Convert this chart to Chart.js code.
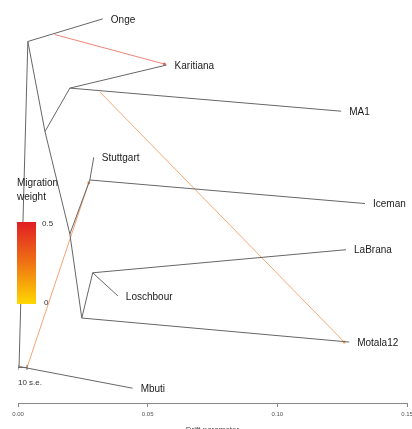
<!DOCTYPE html>
<html>
<head>
<meta charset="utf-8">
<script src="https://cdn.jsdelivr.net/npm/chart.js@4.4.1/dist/chart.umd.min.js"></script>
<style>
  html, body { margin: 0; padding: 0; background: #fff; overflow: hidden; }
  canvas { display: block; }
</style>
</head>
<body>
<canvas id="treeChart" width="412" height="436"></canvas>
<script>
// TreeMix-style tree with migration edges

// Leaves
const tipNames = ['Onge', 'Karitiana', 'MA1', 'Stuttgart', 'Iceman', 'LaBrana', 'Loschbour', 'Motala12', 'Mbuti'];
const tipX = [0.0327, 0.0573, 0.1246, 0.0292, 0.1338, 0.1265, 0.0385, 0.1277, 0.0442];
const tipY = [9, 8, 7, 6, 5, 4, 3, 2, 1];

// Internal nodes
const innerNames = ['R', 'A', 'G', 'B', 'F', 'E', 'C', 'D'];
const innerX = [0.0004, 0.0038, 0.0104, 0.0200, 0.0200, 0.0277, 0.0246, 0.0288];
const innerY = [1.47, 8.51, 6.56, 7.50, 4.34, 5.51, 2.52, 3.50];

// Tree edges (parent -> child)
const edgeFrom = ['R', 'R', 'A', 'A', 'G', 'B', 'B', 'G', 'F', 'E', 'E', 'F', 'C', 'D', 'D', 'C'];
const edgeTo = ['Mbuti', 'A', 'Onge', 'G', 'B', 'Karitiana', 'MA1', 'F', 'E', 'Stuttgart', 'Iceman', 'C', 'D', 'LaBrana', 'Loschbour', 'Motala12'];

// Migration edges
const migFromX = [0.0142, 0.0315, 0.0035];
const migFromY = [8.66, 7.42, 1.45];
const migToX = [0.0565, 0.1258, 0.0273];
const migToY = [8.02, 2.00, 5.45];
const migWeight = [0.45, 0.28, 0.30];

// Scale bar (10 s.e.)
const seBarX = [0, 0.0035];
const seBarY = 1.45;

// X axis
const xTicks = [0, 0.05, 0.10, 0.15];
const xTickLabels = ['0.00', '0.05', '0.10', '0.15'];

const FONT = '"Liberation Sans", Arial, Helvetica, sans-serif';

const nodeX = {};
const nodeY = {};
tipNames.forEach((n, i) => { nodeX[n] = tipX[i]; nodeY[n] = tipY[i]; });
innerNames.forEach((n, i) => { nodeX[n] = innerX[i]; nodeY[n] = innerY[i]; });

// weight 0 -> yellow, 0.5 -> red
function weightColor(w, a) {
    const t = Math.max(0, Math.min(1, w / 0.5));
    const r = Math.round(255 + (225 - 255) * t);
    const g = Math.round(215 + (30 - 215) * t);
    const b = Math.round(0 + (36 - 0) * t);
    return `rgba(${r}, ${g}, ${b}, ${a})`;
}

const datasets = [];

edgeFrom.forEach((from, i) => {
    const to = edgeTo[i];
    datasets.push({
        data: [{ x: nodeX[from], y: nodeY[from] }, { x: nodeX[to], y: nodeY[to] }],
        showLine: true,
        borderColor: '#666',
        borderWidth: 1,
        pointRadius: 0
    });
});

migFromX.forEach((fx, i) => {
    datasets.push({
        data: [{ x: fx, y: migFromY[i] }, { x: migToX[i], y: migToY[i] }],
        showLine: true,
        borderColor: weightColor(migWeight[i], 0.6),
        borderWidth: 1,
        pointRadius: [0, 1.5],
        pointBackgroundColor: weightColor(migWeight[i], 0.7),
        pointBorderWidth: 0
    });
});

datasets.push({
    data: seBarX.map(x => ({ x: x, y: seBarY })),
    showLine: true,
    borderColor: '#666',
    borderWidth: 1,
    pointStyle: 'line',
    rotation: 90,
    pointRadius: 2.5,
    pointBorderColor: '#666',
    pointBorderWidth: 1
});

// Leaf labels, scale bar label and migration weight legend
const annotations = {
    id: 'annotations',
    afterDatasetsDraw(chart) {
        const ctx = chart.ctx;
        const xs = chart.scales.x;
        const ys = chart.scales.y;
        ctx.save();
        ctx.fillStyle = '#1a1a1a';
        ctx.font = '10px ' + FONT;
        ctx.textBaseline = 'middle';
        ctx.textAlign = 'left';
        tipNames.forEach((n, i) => {
            ctx.fillText(n, xs.getPixelForValue(tipX[i]) + 8, ys.getPixelForValue(tipY[i]) + 1);
        });

        ctx.fillStyle = '#333';
        ctx.font = '8px ' + FONT;
        ctx.fillText('10 s.e.', xs.getPixelForValue(0), ys.getPixelForValue(seBarY) + 15);

        // legend
        const left = chart.chartArea.left - 1;
        ctx.fillStyle = '#1a1a1a';
        ctx.font = '10px ' + FONT;
        ctx.fillText('Migration', left, 183);
        ctx.fillText('weight', left, 197);
        const grad = ctx.createLinearGradient(0, 222, 0, 304);
        grad.addColorStop(0, weightColor(0.5, 1));
        grad.addColorStop(0.5, weightColor(0.27, 1));
        grad.addColorStop(1, weightColor(0, 1));
        ctx.fillStyle = grad;
        ctx.fillRect(left, 222, 19, 82);
        ctx.fillStyle = '#333';
        ctx.font = '8px ' + FONT;
        ctx.fillText('0.5', left + 25, 224);
        ctx.fillText('0', left + 27, 303);
        ctx.restore();
    }
};

new Chart(document.getElementById('treeChart'), {
    type: 'scatter',
    data: { datasets: datasets },
    plugins: [annotations],
    options: {
        responsive: false,
        animation: false,
        layout: { padding: { left: 18, right: 4, top: 0, bottom: 0 } },
        plugins: {
            legend: { display: false },
            tooltip: { enabled: false }
        },
        scales: {
            x: {
                type: 'linear',
                min: 0,
                max: 0.15,
                afterBuildTicks(scale) {
                    scale.ticks = xTicks.map(v => ({ value: v }));
                },
                afterFit(scale) {
                    scale.paddingLeft = 0;
                    scale.paddingRight = 0;
                    scale.height = 33;
                },
                grid: {
                    drawOnChartArea: false,
                    drawTicks: true,
                    tickLength: 4,
                    color: '#888'
                },
                border: { display: true, color: '#888', width: 1 },
                ticks: {
                    autoSkip: false,
                    maxRotation: 0,
                    padding: 4,
                    color: '#555',
                    font: { family: FONT, size: 6 },
                    callback: (v, i) => xTickLabels[i]
                },
                title: {
                    display: true,
                    text: 'Drift parameter',
                    color: '#444',
                    font: { family: FONT, size: 8 },
                    padding: { top: 0, bottom: 1 }
                }
            },
            y: {
                type: 'linear',
                display: false,
                min: 0.68,
                max: 9.30
            }
        }
    }
});
</script>
</body>
</html>
